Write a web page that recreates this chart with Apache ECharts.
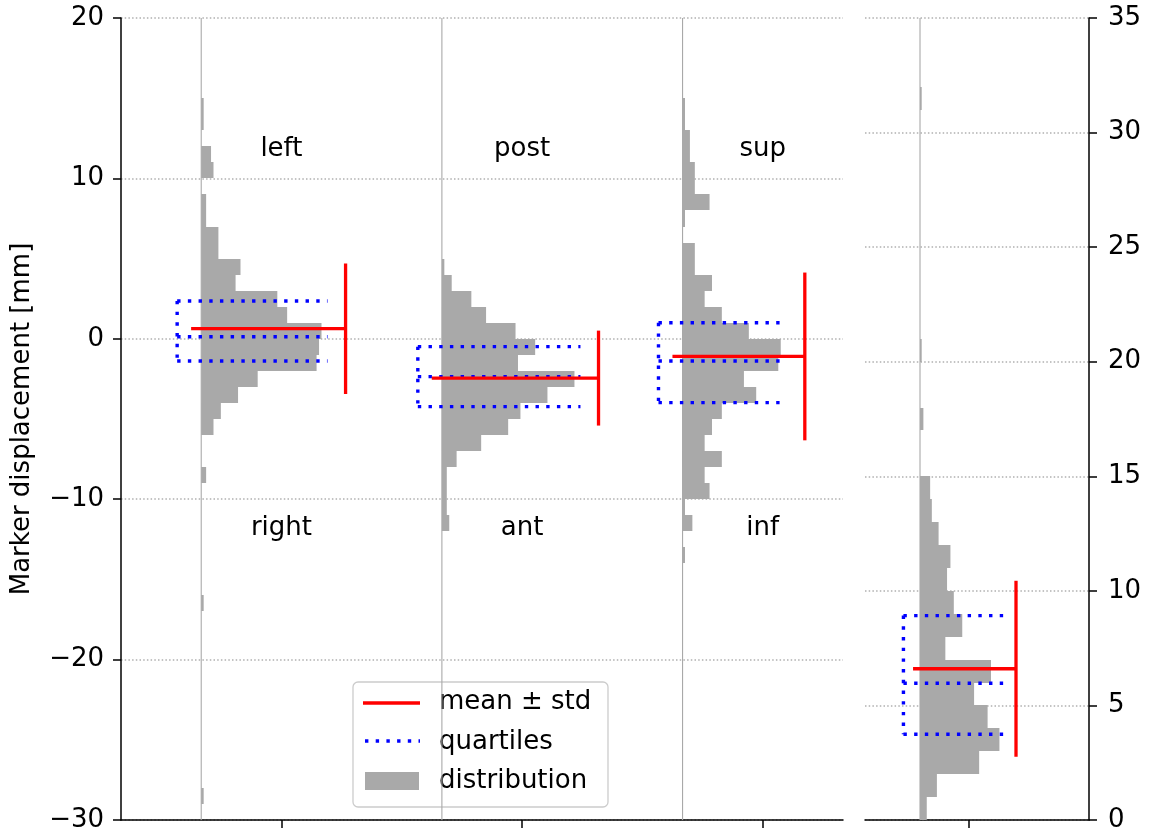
<!DOCTYPE html>
<html>
<head>
<meta charset="utf-8">
<script src="https://cdn.jsdelivr.net/npm/echarts@6/dist/echarts.min.js"></script>
<style>
  html, body { margin: 0; padding: 0; background: #ffffff; }
  #chart { width: 1150px; height: 832px; }
</style>
</head>
<body>
<div id="chart"></div>
<script>
// ---------------- data ----------------
// direction names written above / below each displacement histogram
const labelsTop = ['left', 'post', 'sup'];
const labelsBottom = ['right', 'ant', 'inf'];

// 1 mm bins, each entry is [lower bin edge (mm), count]
const histLR = [[-29, 1], [-17, 1], [-9, 2], [-6, 5], [-5, 8], [-4, 15], [-3, 23], [-2, 47], [-1, 48],
  [0, 49], [1, 35], [2, 31], [3, 14], [4, 16], [5, 7], [6, 7], [7, 2], [8, 2], [10, 5], [11, 4],
  [13, 1], [14, 1]];
const histAP = [[-12, 3], [-11, 2], [-10, 2], [-9, 2], [-8, 6], [-7, 16], [-6, 27], [-5, 32], [-4, 43],
  [-3, 54], [-2, 31], [-1, 38], [0, 30], [1, 18], [2, 12], [3, 4], [4, 1]];
const histSI = [[-14, 1], [-12, 4], [-11, 1], [-10, 11], [-9, 9], [-8, 16], [-7, 9], [-6, 12], [-5, 16],
  [-4, 30], [-3, 25], [-2, 39], [-1, 40], [0, 27], [1, 16], [2, 9], [3, 12], [4, 5], [5, 5], [7, 1],
  [8, 11], [9, 5], [10, 5], [11, 3], [12, 3], [13, 1], [14, 1]];
const histTotal = [[0, 4], [1, 10], [2, 35], [3, 47], [4, 40], [5, 32], [6, 42], [7, 15], [8, 25],
  [9, 20], [10, 16], [11, 18], [12, 11], [13, 7], [14, 6], [17, 2], [20, 1], [31, 1]];

// summary statistics, order: left/right, post/ant, sup/inf, total
const means   = [0.63, -2.45, -1.10, 6.60];
const stds    = [4.07, 2.96, 5.23, 3.84];
const q1      = [-1.38, -4.23, -3.98, 3.74];
const medians = [0.13, -2.36, -1.38, 5.97];
const q3      = [2.36, -0.49, 1.00, 8.92];

// value-axis ticks
const yTicksMain = [-30, -20, -10, 0, 10, 20];
const yTicksTotal = [0, 5, 10, 15, 20, 25, 30, 35];

// ---------------- styling / layout ----------------
const FONT = '"DejaVu Sans", "Liberation Sans", sans-serif';
const FS = 26;
const GREY = '#a9a9a9';
const HIST_SCALE = 0.0102;        // x units per count
const TEXT_OFFSET = 11.8;         // mm above / below zero for direction names

const panels = [
  { grid: 0, positions: [1, 2, 3], hists: [histLR, histAP, histSI], stats: [0, 1, 2],
    baseOffset: 1 / 3, yTicks: yTicksMain },
  { grid: 1, positions: [1], hists: [histTotal], stats: [3],
    baseOffset: 0.296, yTicks: yTicksTotal }
];

function line(api, x1, y1, x2, y2, style) {
  const a = api.coord([x1, y1]);
  const b = api.coord([x2, y2]);
  return { type: 'line', shape: { x1: a[0], y1: a[1], x2: b[0], y2: b[1] }, style: Object.assign({}, style) };
}

function panelSeries(p) {
  const out = [];
  const yMin = p.yTicks[0];
  const yMax = p.yTicks[p.yTicks.length - 1];
  const ax = { xAxisIndex: p.grid, yAxisIndex: p.grid, silent: true, animation: false };

  p.positions.forEach(function (pos, k) {
    const hist = p.hists[k];
    const s = p.stats[k];
    const base = pos - p.baseOffset;
    const maxW = Math.max.apply(null, hist.map(function (d) { return d[1]; })) * HIST_SCALE;

    // thin vertical reference line at the histogram baseline
    out.push(Object.assign({
      type: 'custom', z: 1, data: [[base, yMin, yMax]],
      renderItem: function (params, api) {
        return line(api, api.value(0), api.value(1), api.value(0), api.value(2),
          { stroke: GREY, lineWidth: 1.1 });
      }
    }, ax));

    // horizontal histogram
    out.push(Object.assign({
      type: 'custom', z: 2, data: hist,
      renderItem: function (params, api) {
        const lo = api.value(0), cnt = api.value(1);
        const a = api.coord([base, lo + 1]);
        const b = api.coord([base + cnt * HIST_SCALE, lo]);
        const y0 = Math.round(a[1]), y1 = Math.round(b[1]);
        return { type: 'rect', shape: { x: a[0], y: y0, width: b[0] - a[0], height: y1 - y0 },
          style: { fill: GREY } };
      }
    }, ax));

    // quartile bracket
    out.push(Object.assign({
      type: 'custom', z: 3, data: [[q1[s], medians[s], q3[s]]],
      renderItem: function (params, api) {
        const lo = api.value(0), mid = api.value(1), hi = api.value(2);
        const xl = base - 0.1, xr = base + maxW + 0.025;
        const st = { stroke: '#0000ff', lineWidth: 3.4, lineDash: [3.4, 7.3], fill: null };
        return { type: 'group', children: [
          line(api, xl, hi, xl, lo, st),
          line(api, xl, hi, xr, hi, st),
          line(api, xl, mid, xr, mid, st),
          line(api, xl, lo, xr, lo, st)
        ] };
      }
    }, ax));

    // mean line and +/- std bar
    out.push(Object.assign({
      type: 'custom', z: 4, data: [[means[s], stds[s]]],
      renderItem: function (params, api) {
        const m = api.value(0), sd = api.value(1);
        const xs = base + maxW + 0.1;
        const st = { stroke: '#ff0000', lineWidth: 3.3, fill: null };
        return { type: 'group', children: [
          line(api, base - 0.042, m, xs, m, st),
          line(api, xs, m - sd, xs, m + sd, st)
        ] };
      }
    }, ax));
  });
  return out;
}

// direction names above / below each histogram of the main panel
const textSeries = {
  type: 'custom', xAxisIndex: 0, yAxisIndex: 0, silent: true, animation: false, z: 5,
  data: panels[0].positions.map(function (p) { return [p, TEXT_OFFSET, -TEXT_OFFSET]; }),
  renderItem: function (params, api) {
    const i = params.dataIndex;
    const t = api.coord([api.value(0), api.value(1)]);
    const b = api.coord([api.value(0), api.value(2)]);
    const st = { font: FS + 'px ' + FONT, fill: '#000', align: 'center', verticalAlign: 'middle' };
    return { type: 'group', children: [
      { type: 'text', x: t[0], y: t[1], style: Object.assign({ text: labelsTop[i] }, st) },
      { type: 'text', x: b[0], y: b[1], style: Object.assign({ text: labelsBottom[i] }, st) }
    ] };
  }
};

const minus = function (v) { return String(v).replace('-', '\u2212'); };
const axisLineStyle = { color: '#000', width: 1.5 };
const splitLineStyle = { color: '#b0b0b0', width: 1.5, type: [1.5, 2.2] };
const labelStyle = { color: '#000', fontSize: FS, fontFamily: FONT };

function xAxisOf(gridIndex, min, max, ticks) {
  return {
    type: 'value', gridIndex: gridIndex, min: min, max: max,
    axisLine: { show: true, onZero: false, lineStyle: axisLineStyle },
    axisTick: { show: true, length: 8, lineStyle: axisLineStyle, customValues: ticks },
    axisLabel: { show: false },
    splitLine: { show: false }
  };
}

function yAxisOf(gridIndex, ticks, position, margin) {
  return {
    type: 'value', gridIndex: gridIndex, position: position,
    min: ticks[0], max: ticks[ticks.length - 1], interval: ticks[1] - ticks[0],
    axisLine: { show: true, onZero: false, lineStyle: axisLineStyle },
    axisTick: { show: true, length: 8, lineStyle: axisLineStyle },
    axisLabel: Object.assign({ margin: margin, formatter: minus }, labelStyle),
    splitLine: { show: true, lineStyle: splitLineStyle }
  };
}

const yMain = yAxisOf(0, yTicksMain, 'left', 17);
yMain.name = 'Marker displacement [mm]';
yMain.nameLocation = 'middle';
yMain.nameGap = 86;
yMain.nameTextStyle = labelStyle;

// legend box (drawn as graphic elements)
const legendFont = FS + 'px ' + FONT;
const legend = {
  type: 'group', x: 353, y: 682, z: 100,
  children: [
    { type: 'rect', shape: { x: 0, y: 0, width: 255, height: 125, r: 5 },
      style: { fill: 'rgba(255,255,255,0.8)', stroke: '#cccccc', lineWidth: 1.3 } },
    { type: 'line', shape: { x1: 10, y1: 21, x2: 67, y2: 21 },
      style: { stroke: '#ff0000', lineWidth: 3.3 } },
    { type: 'line', shape: { x1: 12, y1: 59, x2: 67, y2: 59 },
      style: { stroke: '#0000ff', lineWidth: 3.4, lineDash: [3.4, 7.3] } },
    { type: 'rect', shape: { x: 12, y: 90, width: 54, height: 18 }, style: { fill: GREY } },
    { type: 'text', x: 86, y: 20, style: { text: 'mean \u00b1 std', font: legendFont, fill: '#000', verticalAlign: 'middle', textVerticalAlign: 'middle' } },
    { type: 'text', x: 86, y: 60, style: { text: 'quartiles', font: legendFont, fill: '#000', verticalAlign: 'middle', textVerticalAlign: 'middle' } },
    { type: 'text', x: 86, y: 99, style: { text: 'distribution', font: legendFont, fill: '#000', verticalAlign: 'middle', textVerticalAlign: 'middle' } }
  ]
};

const option = {
  animation: false,
  backgroundColor: '#ffffff',
  textStyle: { fontFamily: FONT },
  grid: [
    { left: 121, top: 18, width: 722, height: 802, outerBoundsMode: 'none', containLabel: false },
    { left: 865, top: 18, width: 224, height: 802, outerBoundsMode: 'none', containLabel: false }
  ],
  xAxis: [
    xAxisOf(0, 1 / 3, 10 / 3, panels[0].positions),
    xAxisOf(1, 0.372, 1.724, panels[1].positions)
  ],
  yAxis: [yMain, yAxisOf(1, yTicksTotal, 'right', 19)],
  graphic: [legend],
  series: panelSeries(panels[0]).concat(panelSeries(panels[1]), [textSeries])
};

const chart = echarts.init(document.getElementById('chart'), null, { renderer: 'canvas' });
chart.setOption(option);
</script>
</body>
</html>
